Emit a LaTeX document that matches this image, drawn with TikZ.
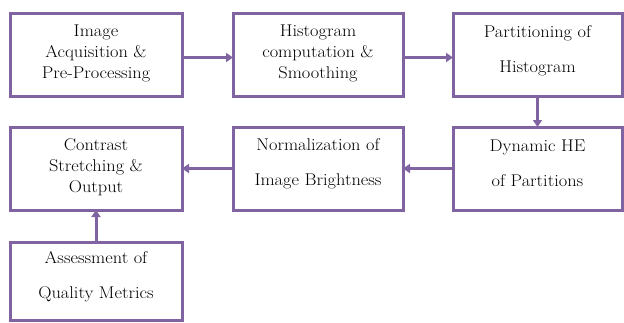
\documentclass[tikz,border=0pt]{standalone}
\usetikzlibrary{arrows.meta}
\definecolor{boxpurple}{HTML}{8064A2}
\begin{document}
\begin{tikzpicture}[x=1pt,y=1pt,
  box/.style={draw=boxpurple, line width=3pt, fill=white, inner sep=0pt, outer sep=0pt, minimum height=83pt},
  lbl/.style={align=center, inner sep=0pt, font=\rmfamily\fontsize{17}{21}\selectfont, text=black, transform shape, xscale=1.08},
  conn/.style={draw=boxpurple, line width=3pt, -{Triangle[length=7pt,width=9pt]}}]
\useasboundingbox (0,0) rectangle (624,322);
% row 1
\node[box, minimum width=172pt] (b1) at (96,266.5) {};
\node[box, minimum width=170pt] (b2) at (318,266.5) {};
\node[box, minimum width=169pt] (b3) at (537.5,266.5) {};
% row 2
\node[box, minimum width=172pt] (b4) at (96,153.5) {};
\node[box, minimum width=170pt] (b5) at (318,153.5) {};
\node[box, minimum width=169pt] (b6) at (537.5,153.5) {};
% row 3
\node[box, minimum width=172pt, minimum height=78pt] (b7) at (96,41) {};
% labels
\node[lbl] (t1) at ([yshift=2.5pt]b1.center) {Image\\Acquisition \&\\Pre-Processing};
\node[lbl] (t2) at ([yshift=2.5pt]b2.center) {Histogram\\computation \&\\Smoothing};
\node[lbl] (t3) at ([yshift=5pt]b3.center) {Partitioning of\\[14pt]Histogram};
\node[lbl] (t4) at ([yshift=1.5pt]b4.center) {Contrast\\Stretching \&\\Output};
\node[lbl] (t5) at ([yshift=5pt]b5.center) {Normalization of\\[14pt]Image Brightness};
\node[lbl] (t6) at ([yshift=5pt]b6.center) {Dynamic HE\\[14pt]of Partitions};
\node[lbl] (t7) at ([yshift=4.5pt]b7.center) {Assessment of\\[14pt]Quality Metrics};
% connectors
\draw[conn] ([yshift=-2pt]b1.east) -- ([yshift=-2pt]b2.west);
\draw[conn] ([yshift=-2pt]b2.east) -- ([yshift=-2pt]b3.west);
\draw[conn] (b3.south) -- (b6.north);
\draw[conn] (b6.west) -- (b5.east);
\draw[conn] (b5.west) -- (b4.east);
\draw[conn] (b7.north) -- (b4.south);
\end{tikzpicture}
\end{document}
